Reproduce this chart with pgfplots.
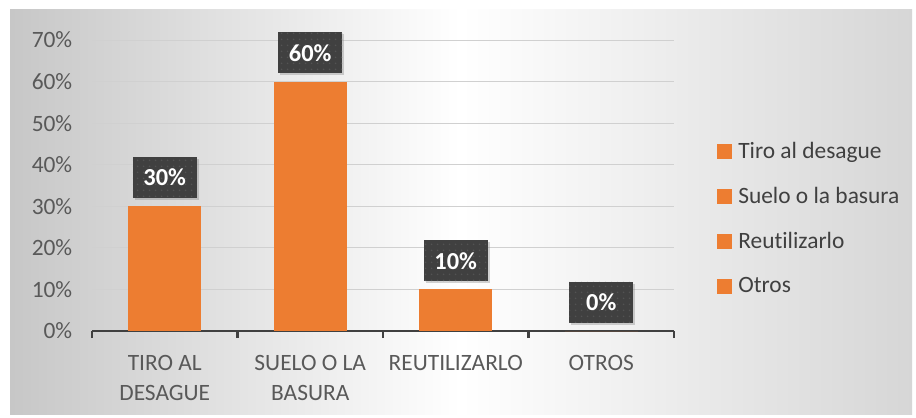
\documentclass[border=0pt]{standalone}
\usepackage{pgfplots}
\pgfplotsset{compat=1.18}
\usepackage{fontspec}
\setmainfont{Carlito}[Ligatures=NoCommon]
\usetikzlibrary{shadows,patterns.meta}
\definecolor{barorange}{HTML}{ED7D31}
\definecolor{txtgray}{HTML}{595959}
\definecolor{legtxt}{HTML}{404040}
\definecolor{boxdark}{HTML}{404040}
\definecolor{gridc}{HTML}{D0D0D0}
\definecolor{axisc}{HTML}{404040}
\newcommand\lblfont{\fontsize{23.5}{30}\selectfont}
\begin{document}
\begin{tikzpicture}[x=1bp,y=1bp]
\useasboundingbox (0,0) rectangle (916,417);
\fill[white] (0,0) rectangle (916,417);
\shade[left color=black!22, right color=black!16, middle color=white] (10,3) rectangle (912,407);
\begin{axis}[
  at={(92bp,86bp)}, anchor=south west,
  scale only axis, width=582bp, height=291bp,
  xmin=-0.5, xmax=3.5, ymin=0, ymax=70,
  clip=false,
  axis lines=left,
  axis line style={-},
  y axis line style={draw=none},
  x axis line style={draw=axisc, line width=2.2bp},
  xtick={0,1,2,3},
  xticklabels={{TIRO AL\\DESAGUE},{SUELO O LA\\BASURA},REUTILIZARLO,OTROS},
  xticklabel style={align=center, font=\lblfont, text=txtgray, yshift=-17bp},
  major x tick style={draw=none},
  minor xtick={-0.5,0.5,1.5,2.5,3.5},
  minor x tick style={draw=axisc, line width=2.2bp},
  minor tick length=7bp,
  tick align=outside,
  ytick={0,10,20,30,40,50,60,70},
  major y tick style={draw=none},
  yticklabel={\pgfmathprintnumber{\tick}\%},
  yticklabel style={font=\lblfont, text=txtgray, xshift=-12bp},
  /pgf/number format/assume math mode=true,
  ymajorgrids,
  grid style={gridc, line width=1bp},
  mybar/.style={ybar, bar width=73bp, bar shift=0pt, fill=barorange, draw=none,
    legend image code/.code={\fill[barorange] (0bp,-7.5bp) rectangle (15bp,7.5bp); \path (19bp,0bp);}},
  nodes near coords={\pgfmathprintnumber{\pgfplotspointmeta}\%},
  every node near coord/.append style={anchor=south, yshift=8bp, fill=boxdark, text=white,
    font=\fontsize{24.5}{28}\selectfont\bfseries, minimum width=64bp, minimum height=41bp, inner sep=0pt,
    drop shadow={shadow xshift=2bp, shadow yshift=-2bp, opacity=0.35},
    postaction={pattern={Dots[distance=6bp,radius=1bp]}, pattern color=black!35!gray}},
  legend style={at={(1.074,0.655)}, anchor=north west, draw=none, fill=none,
    font=\lblfont, text=legtxt, row sep=23.3bp, inner sep=0pt},
  legend cell align=left,
]
\addplot[mybar] coordinates {(0,30)};
\addlegendentry{Tiro al desague}
\addplot[mybar] coordinates {(1,60)};
\addlegendentry{Suelo o la basura}
\addplot[mybar] coordinates {(2,10)};
\addlegendentry{Reutilizarlo}
\addplot[mybar] coordinates {(3,0)};
\addlegendentry{Otros}
\end{axis}
\end{tikzpicture}
\end{document}
